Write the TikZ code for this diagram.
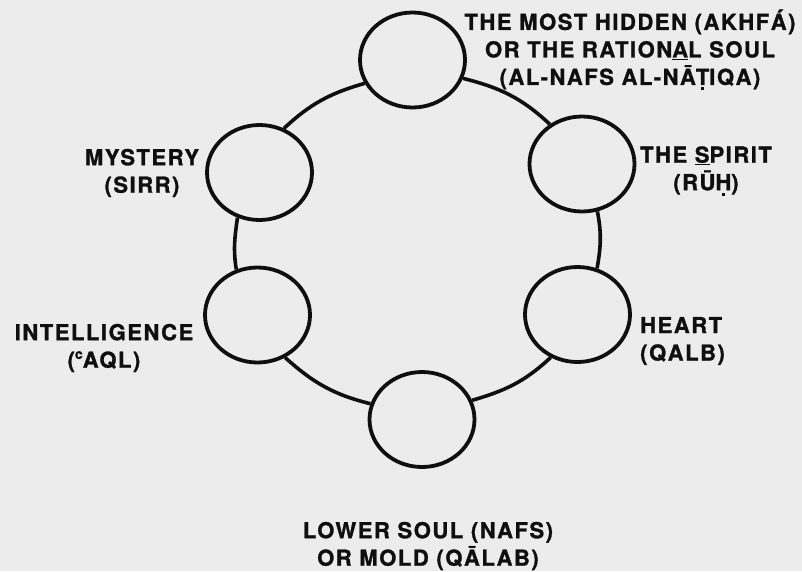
\documentclass[tikz,border=0pt]{standalone}
\usepackage{fontspec}
\setmainfont{TeX Gyre Heros}[LetterSpace=7, BoldFeatures={FakeBold=1.2}]
\usetikzlibrary{shapes.geometric}
\definecolor{paper}{RGB}{236,236,236}
\definecolor{ink}{RGB}{15,15,15}
\newcommand\udt[1]{\ooalign{#1\cr\hidewidth\raisebox{-5.5pt}{\rule{3pt}{3pt}}\hidewidth\cr}}
\newcommand\supc{\raisebox{0.4em}{\fontsize{14}{14}\selectfont c}}
\tikzset{
  soul/.style={ellipse, draw=ink, line width=3.8pt, minimum width=105pt, minimum height=95pt, inner sep=0pt},
  ring/.style={draw=ink, line width=3.6pt},
  lab/.style={text=ink, inner sep=0pt, font=\fontsize{22}{27.5}\selectfont\bfseries}
}
\begin{document}
\begin{tikzpicture}[x=1pt,y=-1pt]
\path[fill=paper] (0,0) rectangle (802,571);
\useasboundingbox (0,0) rectangle (802,571);
% circles
\node[soul] (top) at (412.5,60) {};
\node[soul] (spirit) at (582,164) {};
\node[soul] (heart) at (577.5,314.5) {};
\node[soul] (lower) at (422,419.5) {};
\node[soul] (intel) at (257.5,315) {};
\node[soul] (mystery) at (259.5,172.5) {};
% ring connectors
\draw[ring] (top.-20) to[out=-14,in=137] (spirit.129);
\draw[ring] (spirit.-72) to[out=-79,in=80] (heart.67);
\draw[ring] (heart.-122) to[out=-137,in=16] (lower.21);
\draw[ring] (lower.163) to[out=166,in=-42] (intel.-57);
\draw[ring] (intel.115) to[out=99,in=-98] (mystery.-116);
\draw[ring] (mystery.61) to[out=43,in=-164] (top.-154);
% labels
\node[lab, align=center] (ltop) at (630,50) {THE MOST HIDDEN (AKHFÁ)\\OR THE RATION\underline{A}L SOUL\\(AL-NAFS AL-NĀ\udt{T}IQA)};
\node[lab, align=center] (lspirit) at (706,171) {THE \underline{S}PIRIT\\(RŪ\udt{H})};
\node[lab, align=left, anchor=west] (lheart) at (640,341) {HEART\\(QALB)};
\node[lab, align=center] (llower) at (428,546) {LOWER SOUL (NAFS)\\OR MOLD (QĀLAB)};
\node[lab, align=center] (lintel) at (104,348) {INTELLIGENCE\\(\supc AQL)};
\node[lab, align=center] (lmystery) at (142,173) {MYSTERY\\(SIRR)};
\end{tikzpicture}
\end{document}
